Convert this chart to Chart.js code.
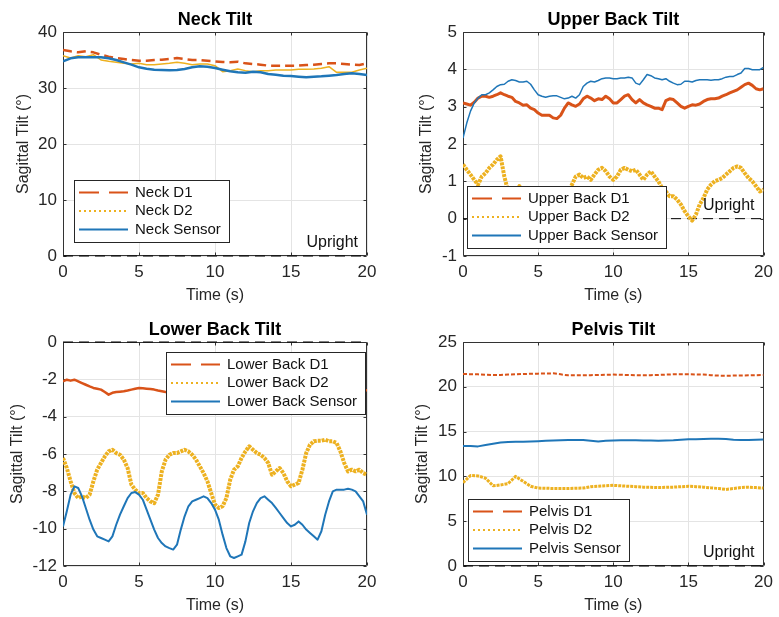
<!DOCTYPE html>
<html>
<head>
<meta charset="utf-8">
<script src="https://cdn.jsdelivr.net/npm/chart.js@4"></script>
<style>
html, body { margin: 0; padding: 0; background: #fff; overflow: hidden; width: 779px; height: 617px; }
.panel { position: absolute; }
</style>
</head>
<body>
<div class="panel" style="left:0;top:0"><canvas id="neckChart" width="390" height="310"></canvas></div>
<div class="panel" style="left:390px;top:0"><canvas id="upperChart" width="389" height="310"></canvas></div>
<div class="panel" style="left:0;top:310px"><canvas id="lowerChart" width="390" height="310"></canvas></div>
<div class="panel" style="left:390px;top:310px"><canvas id="pelvisChart" width="389" height="310"></canvas></div>
<script>
// sample times (s)
const timeCoarse = [0,0.5,1,1.5,2,2.5,3,3.5,4,4.5,5,5.5,6,6.5,7,7.5,8,8.5,9,9.5,10,10.5,11,11.5,12,12.5,13,13.5,14,14.5,15,15.5,16,16.5,17,17.5,18,18.5,19,19.5,20];
const timeFine = [0,0.25,0.5,0.75,1,1.25,1.5,1.75,2,2.25,2.5,2.75,3,3.25,3.5,3.75,4,4.25,4.5,4.75,5,5.25,5.5,5.75,6,6.25,6.5,6.75,7,7.25,7.5,7.75,8,8.25,8.5,8.75,9,9.25,9.5,9.75,10,10.25,10.5,10.75,11,11.25,11.5,11.75,12,12.25,12.5,12.75,13,13.25,13.5,13.75,14,14.25,14.5,14.75,15,15.25,15.5,15.75,16,16.25,16.5,16.75,17,17.25,17.5,17.75,18,18.25,18.5,18.75,19,19.25,19.5,19.75,20];

// upright reference
const uprightTime = [0, 20];
const uprightLevel = [0, 0];

// neck (timeCoarse)
const neckD1 = [36.79,36.55,36.37,36.55,36.37,35.95,35.6,35.36,35.18,35.0,34.88,34.88,35.0,35.06,35.18,35.36,35.18,35.0,35.0,34.88,34.76,34.64,34.58,34.7,34.4,34.29,34.17,33.99,33.99,33.99,33.99,33.99,34.1,34.17,34.29,34.4,34.4,34.29,34.17,34.1,34.4];
const neckD2 = [35.77,35.36,35.77,35.6,35.95,35.0,34.76,34.58,34.4,34.29,34.4,34.17,34.17,34.29,34.4,34.58,34.4,34.17,34.29,34.29,33.99,32.92,33.1,33.39,33.1,32.92,33.1,33.1,33.21,33.21,33.21,33.33,33.33,33.39,33.51,33.81,32.8,32.8,32.8,33.21,33.51];
const neckSensor = [34.76,35.3,35.48,35.48,35.48,35.48,35.3,35.0,34.58,34.17,33.69,33.45,33.27,33.21,33.15,33.21,33.39,33.69,33.87,33.81,33.57,33.27,32.98,32.8,32.74,32.92,32.8,32.5,32.38,32.2,32.14,32.02,31.9,32.02,32.08,32.2,32.32,32.5,32.62,32.5,32.32];

// upper back (timeFine)
const upperD1 = [3.1,3.07,3.04,3.12,3.23,3.28,3.28,3.25,3.28,3.32,3.37,3.32,3.28,3.25,3.14,3.1,3.04,3.05,2.96,2.92,2.83,2.77,2.77,2.77,2.7,2.68,2.77,2.96,3.1,3.05,3.01,3.07,3.21,3.28,3.23,3.16,3.21,3.19,3.28,3.21,3.1,3.1,3.19,3.28,3.32,3.19,3.1,3.19,3.1,3.05,3.01,2.96,2.96,2.92,3.16,3.21,3.19,3.1,3.01,2.96,3.01,3.05,3.04,3.07,3.14,3.19,3.21,3.21,3.23,3.28,3.32,3.37,3.41,3.45,3.52,3.59,3.63,3.57,3.48,3.45,3.48];
const upperD2 = [1.45,1.31,1.18,1.04,0.91,1.13,1.22,1.36,1.45,1.58,1.67,1.13,0.73,0.46,0.64,0.87,0.73,0.62,0.55,0.5,0.46,0.42,0.38,0.4,0.42,0.48,0.55,0.62,0.69,0.91,1.13,1.18,1.09,1.13,1.04,1.18,1.31,1.36,1.27,1.13,1.04,1.13,1.31,1.36,1.31,1.27,1.31,1.18,1.04,1.18,1.27,1.13,1.0,0.82,0.73,0.6,0.6,0.51,0.38,0.2,0.06,-0.05,0.11,0.38,0.55,0.78,0.91,1.0,1.04,1.09,1.18,1.27,1.36,1.4,1.36,1.22,1.09,1.0,0.87,0.73,0.78];
const upperSensor = [2.16,2.56,2.88,3.1,3.23,3.32,3.32,3.37,3.45,3.54,3.59,3.6,3.68,3.72,3.7,3.66,3.66,3.68,3.6,3.45,3.32,3.28,3.25,3.28,3.29,3.29,3.25,3.21,3.23,3.28,3.23,3.32,3.54,3.63,3.68,3.66,3.7,3.75,3.77,3.77,3.75,3.75,3.77,3.77,3.79,3.77,3.63,3.59,3.72,3.86,3.83,3.77,3.75,3.72,3.75,3.68,3.63,3.59,3.6,3.68,3.68,3.66,3.7,3.72,3.72,3.72,3.71,3.72,3.72,3.75,3.79,3.81,3.81,3.86,3.9,4.02,4.02,3.99,3.99,3.99,4.05];

// lower back (timeFine)
const lowerD1 = [-2.11,-2.02,-2.07,-2.02,-2.11,-2.2,-2.29,-2.38,-2.46,-2.5,-2.55,-2.68,-2.82,-2.72,-2.68,-2.66,-2.64,-2.6,-2.55,-2.5,-2.46,-2.48,-2.5,-2.52,-2.55,-2.6,-2.64,-2.68,-2.7,-2.72,-2.7,-2.66,-2.64,-2.62,-2.64,-2.68,-2.7,-2.72,-2.7,-2.68,-2.66,-2.64,-2.62,-2.6,-2.62,-2.64,-2.66,-2.68,-2.7,-2.68,-2.66,-2.64,-2.62,-2.6,-2.62,-2.64,-2.66,-2.68,-2.7,-2.68,-2.66,-2.64,-2.62,-2.6,-2.62,-2.64,-2.66,-2.68,-2.66,-2.64,-2.62,-2.6,-2.62,-2.64,-2.62,-2.6,-2.62,-2.64,-2.62,-2.6,-2.59];
const lowerD2 = [-6.21,-6.75,-7.46,-8.09,-8.36,-8.27,-8.36,-8.18,-7.46,-6.84,-6.48,-6.13,-5.86,-5.77,-5.95,-6.04,-6.3,-6.75,-7.64,-7.91,-8.09,-8.09,-8.36,-8.54,-8.63,-8.18,-6.93,-6.3,-6.04,-5.95,-5.95,-5.86,-5.77,-5.86,-6.04,-6.3,-6.66,-7.02,-7.46,-8.09,-8.71,-8.89,-8.8,-8.36,-7.38,-6.84,-6.66,-6.21,-5.86,-5.59,-5.77,-5.95,-6.04,-6.21,-6.48,-7.11,-6.93,-6.75,-7.02,-7.46,-7.73,-7.64,-7.55,-6.84,-5.95,-5.5,-5.32,-5.29,-5.29,-5.23,-5.32,-5.32,-5.41,-5.86,-6.48,-6.93,-6.84,-6.93,-6.84,-7.02,-7.11];
const lowerSensor = [-9.88,-9.07,-8.18,-7.73,-7.82,-8.27,-8.89,-9.52,-10.05,-10.41,-10.5,-10.59,-10.68,-10.41,-9.79,-9.25,-8.8,-8.36,-8.09,-8.04,-8.18,-8.45,-8.98,-9.52,-10.05,-10.5,-10.77,-10.95,-11.04,-11.12,-10.86,-10.05,-9.34,-8.8,-8.54,-8.45,-8.36,-8.27,-8.36,-8.63,-8.98,-9.52,-10.32,-11.04,-11.48,-11.57,-11.48,-11.39,-10.68,-9.7,-9.07,-8.63,-8.36,-8.27,-8.45,-8.63,-8.89,-9.16,-9.43,-9.7,-9.88,-9.79,-9.61,-9.79,-10.05,-10.23,-10.41,-10.59,-10.14,-9.25,-8.54,-8.0,-7.91,-7.91,-7.91,-7.86,-7.91,-8.0,-8.27,-8.54,-9.25];

// pelvis (timeCoarse)
const pelvisD1 = [21.43,21.41,21.39,21.35,21.32,21.33,21.36,21.4,21.43,21.45,21.47,21.49,21.5,21.39,21.28,21.28,21.28,21.3,21.32,21.34,21.36,21.34,21.32,21.3,21.28,21.3,21.32,21.36,21.39,21.39,21.39,21.38,21.36,21.3,21.25,21.24,21.25,21.27,21.28,21.3,21.32];
const pelvisD2 = [9.3,10.1,10.05,9.8,8.95,9.05,9.2,10.0,9.45,8.9,8.7,8.68,8.65,8.65,8.65,8.68,8.7,8.85,8.9,8.95,9.0,8.95,8.9,8.85,8.8,8.78,8.75,8.78,8.8,8.85,8.9,8.85,8.8,8.72,8.65,8.55,8.65,8.75,8.8,8.75,8.7];
const pelvisSensor = [13.4,13.4,13.35,13.5,13.65,13.78,13.85,13.87,13.87,13.9,13.93,13.97,14.02,14.04,14.06,14.07,14.05,13.98,13.9,13.97,14.02,14.03,14.04,14.03,14.02,14.0,13.99,14.02,14.04,14.1,14.14,14.16,14.18,14.2,14.21,14.17,14.1,14.07,14.06,14.1,14.13];

const FONT = '"Liberation Sans", Arial, Helvetica, sans-serif';
Chart.defaults.font.family = FONT;
Chart.defaults.color = '#262626';

const orange = '#D95319';
const yellow = '#EDB120';
const blue = '#1F76B8';

function points(time, vals) {
    return time.map((t, i) => ({x: t, y: vals[i]}));
}

// box, inward ticks, legend and "Upright" label, matlab style
const axesBox = {
    id: 'axesBox',
    beforeDatasetsDraw(chart) {
        const {ctx, chartArea: a, scales: {x, y}} = chart;
        const l = Math.round(a.left) + 0.5, r = Math.round(a.right) - 0.5;
        const t = Math.round(a.top) + 0.5, b = Math.round(a.bottom) - 0.5;
        ctx.save();
        ctx.strokeStyle = '#333';
        ctx.lineWidth = 1;
        ctx.beginPath();
        ctx.rect(l, t, r - l, b - t);
        x.ticks.forEach(tk => {
            const px = Math.round(x.getPixelForValue(tk.value)) + 0.5;
            ctx.moveTo(px, b); ctx.lineTo(px, b - 3);
            ctx.moveTo(px, t); ctx.lineTo(px, t + 3);
        });
        y.ticks.forEach(tk => {
            const py = Math.round(y.getPixelForValue(tk.value)) + 0.5;
            ctx.moveTo(l, py); ctx.lineTo(l + 3, py);
            ctx.moveTo(r, py); ctx.lineTo(r - 3, py);
        });
        ctx.stroke();
        ctx.restore();
    },
    afterDatasetsDraw(chart, args, opts) {
        const {ctx, chartArea: a} = chart;
        ctx.save();
        if (opts.upright) {
            const y0 = chart.scales.y.getPixelForValue(uprightLevel[0]);
            ctx.font = '16px ' + FONT;
            ctx.fillStyle = '#111';
            ctx.textAlign = 'right';
            ctx.textBaseline = 'middle';
            ctx.fillText('Upright', a.right - 9, y0 - 13);
        }
        const lg = opts.box;
        const items = chart.data.datasets.filter(d => d.legendDash);
        ctx.font = '15px ' + FONT;
        const textW = Math.max(...items.map(d => ctx.measureText(d.label).width));
        const w = Math.round(61 + textW + 8);
        const h = 62;
        const left = Math.round(lg.side === 'right' ? a.right - lg.dx - w : a.left + lg.dx);
        const top = Math.round(lg.vert === 'top' ? a.top + lg.dy : a.bottom - lg.dy - h);
        ctx.fillStyle = '#fff';
        ctx.fillRect(left, top, w, h);
        ctx.strokeStyle = '#262626';
        ctx.lineWidth = 1;
        ctx.strokeRect(left + 0.5, top + 0.5, w, h);
        items.forEach((d, i) => {
            const ry = top + 12.5 + i * 18.5;
            ctx.beginPath();
            ctx.setLineDash(d.legendDash);
            ctx.strokeStyle = d.borderColor;
            ctx.lineWidth = 2;
            ctx.moveTo(left + 5, ry);
            ctx.lineTo(left + 54, ry);
            ctx.stroke();
            ctx.setLineDash([]);
            ctx.fillStyle = '#111';
            ctx.textAlign = 'left';
            ctx.textBaseline = 'middle';
            ctx.fillText(d.label, left + 61, ry);
        });
        ctx.restore();
    }
};

function makePanel(id, p) {
    const datasets = [
        {label: p.names[0], data: points(p.time, p.d1), borderColor: orange, borderWidth: p.w1, borderDash: p.dash1, order: 2, legendDash: [20, 10]},
        {label: p.names[1], data: points(p.time, p.d2), borderColor: yellow, borderWidth: p.w2, borderDash: p.dash2, order: 1, legendDash: [2, 3]},
        {label: p.names[2], data: points(p.time, p.sensor), borderColor: blue, borderWidth: p.w3, order: 0, legendDash: [1, 0]},
        {label: 'Upright', data: points(uprightTime, uprightLevel), borderColor: '#000', borderWidth: 1, borderDash: [10, 6], order: 3, clip: false}
    ];
    return new Chart(document.getElementById(id), {
        type: 'line',
        data: {datasets: datasets},
        plugins: [axesBox],
        options: {
            responsive: false,
            animation: false,
            events: [],
            layout: {padding: {right: p.rightPad}},
            elements: {point: {radius: 0}, line: {tension: 0, borderJoinStyle: 'round', backgroundColor: 'transparent'}},
            plugins: {
                legend: {display: false},
                tooltip: {enabled: false},
                title: {
                    display: true, text: p.title, color: '#000', fullSize: false,
                    font: {size: 18, weight: 'bold', lineHeight: '19px'},
                    padding: {top: 11, bottom: 2}
                },
                axesBox: {box: p.legend, upright: p.upright}
            },
            scales: {
                x: {
                    type: 'linear', min: 0, max: 20,
                    ticks: {stepSize: 5, font: {size: 17}, padding: 6, maxRotation: 0, color: '#262626'},
                    grid: {color: '#e4e4e4', drawTicks: false},
                    border: {display: false},
                    title: {display: true, text: 'Time (s)', font: {size: 16}, color: '#262626', padding: {top: 0, bottom: 5}},
                    afterFit: s => { s.height = 54; }
                },
                y: {
                    type: 'linear', min: p.yMin, max: p.yMax,
                    ticks: {stepSize: p.yStep, font: {size: 17}, padding: 6, color: '#262626'},
                    grid: {color: '#e4e4e4', drawTicks: false},
                    border: {display: false},
                    title: {display: true, text: 'Sagittal Tilt (°)', font: {size: 16}, color: '#262626', padding: {top: p.yTitlePad, bottom: 0}},
                    afterFit: s => { s.width = p.yWidth; }
                }
            }
        }
    });
}

makePanel('neckChart', {
    title: 'Neck Tilt', names: ['Neck D1', 'Neck D2', 'Neck Sensor'],
    time: timeCoarse, d1: neckD1, d2: neckD2, sensor: neckSensor,
    yMin: 0, yMax: 40, yStep: 10, yWidth: 63, yTitlePad: 13.5, rightPad: 23,
    legend: {side: 'left', vert: 'bottom', dx: 11, dy: 14}, upright: true,
    w1: 2.5, dash1: [9, 5], w2: 1.5, dash2: [], w3: 2.5
});
makePanel('upperChart', {
    title: 'Upper Back Tilt', names: ['Upper Back D1', 'Upper Back D2', 'Upper Back Sensor'],
    time: timeFine, d1: upperD1, d2: upperD2, sensor: upperSensor,
    yMin: -1, yMax: 5, yStep: 1, yWidth: 73, yTitlePad: 27, rightPad: 12,
    legend: {side: 'left', vert: 'bottom', dx: 4, dy: 8}, upright: true,
    w1: 3, dash1: [], w2: 4, dash2: [3, 1], w3: 1.5
});
makePanel('lowerChart', {
    title: 'Lower Back Tilt', names: ['Lower Back D1', 'Lower Back D2', 'Lower Back Sensor'],
    time: timeFine, d1: lowerD1, d2: lowerD2, sensor: lowerSensor,
    yMin: -12, yMax: 0, yStep: 2, yWidth: 63, yTitlePad: 7.5, rightPad: 23,
    legend: {side: 'right', vert: 'top', dx: 2, dy: 10}, upright: false,
    w1: 2.5, dash1: [], w2: 4, dash2: [3, 1], w3: 2
});
makePanel('pelvisChart', {
    title: 'Pelvis Tilt', names: ['Pelvis D1', 'Pelvis D2', 'Pelvis Sensor'],
    time: timeCoarse, d1: pelvisD1, d2: pelvisD2, sensor: pelvisSensor,
    yMin: 0, yMax: 25, yStep: 5, yWidth: 73, yTitlePad: 22.5, rightPad: 12,
    legend: {side: 'left', vert: 'bottom', dx: 5, dy: 5}, upright: true,
    w1: 2, dash1: [4, 2], w2: 3, dash2: [3, 1], w3: 2
});
</script>
</body>
</html>
